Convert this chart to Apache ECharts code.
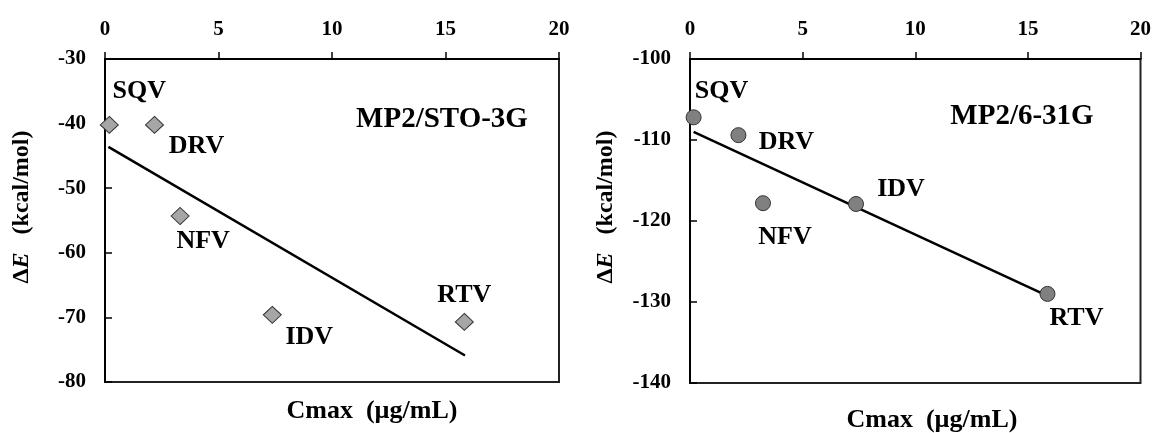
<!DOCTYPE html>
<html>
<head>
<meta charset="utf-8">
<script src="https://cdn.jsdelivr.net/npm/echarts@6/dist/echarts.min.js"></script>
<style>
  html, body { margin: 0; padding: 0; background: #fff; }
  #main { width: 1154px; height: 433px; }
</style>
</head>
<body>
<div id="main"></div>
<script>
// drugs and values
var drugs = ['SQV', 'DRV', 'NFV', 'IDV', 'RTV'];

var cmaxSto = [0.19, 2.18, 3.31, 7.37, 15.83];
var dESto = [-40.2, -40.2, -54.3, -69.6, -70.7];
var fitXSto = [0.15, 15.86];
var fitYSto = [-43.6, -75.9];

var cmax631 = [0.16, 2.15, 3.24, 7.37, 15.87];
var dE631 = [-107.2, -109.4, -117.8, -117.9, -129.0];
var fitX631 = [0.16, 15.92];
var fitY631 = [-109.0, -129.3];

// label placement around each marker (px)
var offsSto = [[30, -34], [42, 21], [23, 25], [37, 22], [0, -27]];
var offs631 = [[28, -26], [48, 7], [22, 34], [45, -15], [29, 24]];

var serif = '"Liberation Serif", "Times New Roman", serif';

function pts(xs, ys, offs) {
	var out = [];
	for (var i = 0; i < xs.length; i++) {
		out.push({ name: drugs[i], value: [xs[i], ys[i]], label: { offset: offs[i] } });
	}
	return out;
}

function pairs(xs, ys) {
	var out = [];
	for (var i = 0; i < xs.length; i++) out.push([xs[i], ys[i]]);
	return out;
}

function xAx(idx) {
	return {
		gridIndex: idx, type: 'value', position: 'top',
		min: 0, max: 20, interval: 5,
		axisLine: { show: true, lineStyle: { color: '#000', width: 2 } },
		axisTick: { show: true, inside: false, length: 7, lineStyle: { color: '#000', width: 1.5 } },
		axisLabel: { margin: 19, color: '#000', fontFamily: serif, fontWeight: 'bold', fontSize: 21 },
		splitLine: { show: false }
	};
}

function yAx(idx, lo, hi) {
	return {
		gridIndex: idx, type: 'value',
		min: lo, max: hi, interval: 10,
		axisLine: { show: true, onZero: false, lineStyle: { color: '#000', width: 2 } },
		axisTick: { show: true, inside: true, length: 7, lineStyle: { color: '#000', width: 1.5 } },
		axisLabel: { margin: 19, color: '#000', fontFamily: serif, fontWeight: 'bold', fontSize: 21 },
		splitLine: { show: false }
	};
}

var ptLabel = {
	show: true, position: 'inside', formatter: '{b}',
	color: '#000', opacity: 1, fontFamily: serif, fontWeight: 'bold', fontSize: 26
};

function yTitle(x, y) {
	return {
		type: 'text', x: x, y: y, rotation: Math.PI / 2,
		style: {
			text: '{d|Δ}{e|E}{d|   (kcal/mol)}',
			align: 'center', verticalAlign: 'middle',
			rich: {
				d: { fontFamily: serif, fontWeight: 'bold', fontSize: 24, fill: '#000' },
				e: { fontFamily: serif, fontWeight: 'bold', fontStyle: 'italic', fontSize: 24, fill: '#000' }
			}
		}
	};
}

function txt(x, y, s, size) {
	return {
		type: 'text', x: x, y: y,
		style: {
			text: s, align: 'center', verticalAlign: 'middle',
			fontFamily: serif, fontWeight: 'bold', fontSize: size, fill: '#000'
		}
	};
}

var myChart = echarts.init(document.getElementById('main'), null, { renderer: 'canvas' });

myChart.setOption({
	backgroundColor: '#fff',
	animation: false,
	grid: [
		{ left: 105, top: 59, width: 454, height: 323, show: true, borderColor: '#222', borderWidth: 2 },
		{ left: 690, top: 59, width: 453, height: 324, show: true, borderColor: '#222', borderWidth: 2 }
	],
	xAxis: [xAx(0), xAx(1)],
	yAxis: [yAx(0, -80, -30), yAx(1, -140, -100)],
	graphic: [
		yTitle(22, 207),
		yTitle(606, 207),
		txt(372, 411, 'Cmax  (µg/mL)', 26),
		txt(932, 420, 'Cmax  (µg/mL)', 26),
		txt(442, 120, 'MP2/STO-3G', 29),
		txt(1022, 117, 'MP2/6-31G', 29)
	],
	series: [
		{
			type: 'line', xAxisIndex: 0, yAxisIndex: 0,
			data: pairs(fitXSto, fitYSto), showSymbol: false,
			lineStyle: { color: '#000', width: 2.5 }, z: 2
		},
		{
			type: 'scatter', xAxisIndex: 0, yAxisIndex: 0,
			data: pts(cmaxSto, dESto, offsSto),
			symbol: 'diamond', symbolSize: [18, 17],
			itemStyle: { color: '#a6a6a6', borderColor: '#333', borderWidth: 1, opacity: 1 },
			label: ptLabel, z: 3
		},
		{
			type: 'line', xAxisIndex: 1, yAxisIndex: 1,
			data: pairs(fitX631, fitY631), showSymbol: false,
			lineStyle: { color: '#000', width: 2.5 }, z: 2
		},
		{
			type: 'scatter', xAxisIndex: 1, yAxisIndex: 1,
			data: pts(cmax631, dE631, offs631),
			symbol: 'circle', symbolSize: 15,
			itemStyle: { color: '#808080', borderColor: '#333', borderWidth: 1, opacity: 1 },
			label: ptLabel, z: 3
		}
	]
});
</script>
</body>
</html>
